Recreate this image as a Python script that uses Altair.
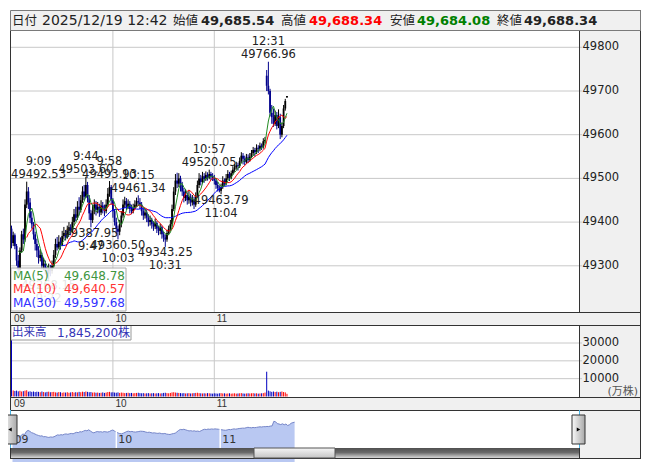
import altair as alt
import pandas as pd
import numpy as np

# ---------------- data (1-minute bars, 9:00 .. 11:30, 12:30 .. 12:42) ----------------
opens = [
    49385, 49352, 49370, 49345, 49312, 49290, 49335, 49372, 49360, 49440,
    49470, 49445, 49410, 49395, 49372, 49350, 49335, 49318, 49325, 49300,
    49305, 49290, 49282, 49295, 49288, 49300, 49325, 49350, 49342, 49355,
    49348, 49368, 49375, 49365, 49380, 49388, 49378, 49400, 49418, 49410,
    49435, 49428, 49450, 49470, 49458, 49485, 49455, 49420, 49405, 49425,
    49440, 49428, 49435, 49422, 49438, 49430, 49425, 49440, 49465, 49480,
    49450, 49425, 49400, 49385, 49378, 49395, 49415, 49440, 49448, 49435,
    49442, 49430, 49425, 49432, 49440, 49448, 49445, 49440, 49425, 49415,
    49422, 49410, 49400, 49405, 49395, 49390, 49398, 49385, 49380, 49388,
    49372, 49365, 49360, 49375, 49385, 49395, 49430, 49470, 49495, 49488,
    49500, 49485, 49470, 49455, 49462, 49450, 49458, 49445, 49452, 49440,
    49460, 49485, 49500, 49492, 49505, 49498, 49508, 49502, 49510, 49505,
    49500, 49495, 49485, 49478, 49472, 49480, 49495, 49488, 49500, 49510,
    49502, 49512, 49520, 49525, 49530, 49528, 49540, 49552, 49545, 49538,
    49548, 49542, 49550, 49558, 49565, 49560, 49570, 49568, 49575, 49572,
    49585, 49735, 49712, 49700, 49650, 49640, 49625, 49645, 49620, 49640,
    49600, 49620, 49660, 49685.54,
]
highs = [
    49392, 49378, 49374, 49350, 49325, 49342, 49380, 49385, 49452, 49492.53,
    49480, 49455, 49425, 49400, 49378, 49362, 49345, 49338, 49330, 49318,
    49312, 49298, 49305, 49302, 49312, 49336, 49362, 49366, 49370, 49365,
    49380, 49389, 49382, 49392, 49400, 49395, 49412, 49430, 49435, 49448,
    49457, 49462, 49482, 49485, 49503.60, 49492, 49462, 49428, 49440, 49452,
    49448, 49446, 49442, 49450, 49446, 49440, 49452, 49478, 49493.93, 49485,
    49455, 49430, 49410, 49392, 49405, 49425, 49452, 49458, 49455, 49452,
    49448, 49440, 49442, 49450, 49456, 49461.34, 49455, 49446, 49432, 49430,
    49428, 49418, 49415, 49410, 49402, 49408, 49402, 49392, 49396, 49392,
    49378, 49372, 49382, 49392, 49405, 49440, 49480, 49510, 49513, 49512,
    49506, 49492, 49478, 49475, 49468, 49472, 49465, 49462, 49458, 49468,
    49495, 49512, 49508, 49515, 49512, 49516, 49514, 49520.05, 49515, 49512,
    49508, 49500, 49492, 49484, 49488, 49505, 49500, 49510, 49519, 49515,
    49518, 49528, 49533, 49538, 49536, 49548, 49560, 49558, 49552, 49556,
    49555, 49558, 49565, 49572, 49570, 49578, 49576, 49582, 49580, 49592,
    49595, 49748, 49766.96, 49705, 49668, 49660, 49655, 49652, 49658, 49648,
    49628, 49668, 49682, 49688.34,
]
lows = [
    49340, 49345, 49338, 49300, 49282, 49286, 49330, 49350, 49355, 49432,
    49430, 49398, 49385, 49360, 49335, 49320, 49305, 49310, 49292, 49290,
    49280, 49272, 49268.15, 49276, 49282, 49296, 49318, 49335, 49338, 49337,
    49345, 49360, 49358, 49362, 49372, 49370, 49375, 49392, 49402, 49405,
    49415, 49422, 49444, 49450, 49455, 49445, 49405, 49387.95, 49398, 49418,
    49415, 49420, 49412, 49416, 49420, 49414, 49420, 49435, 49458, 49440,
    49410, 49392, 49372, 49360.50, 49370, 49388, 49410, 49432, 49428, 49430,
    49420, 49418, 49420, 49428, 49435, 49438, 49430, 49415, 49405, 49408,
    49400, 49390, 49392, 49385, 49380, 49384, 49375, 49370, 49372, 49362,
    49355, 49343.25, 49355, 49370, 49380, 49390, 49425, 49462, 49478, 49480,
    49470, 49460, 49445, 49448, 49440, 49442, 49436, 49438, 49430, 49435,
    49455, 49478, 49484, 49488, 49490, 49494, 49495, 49498, 49496, 49494,
    49486, 49476, 49470, 49468, 49463.79, 49476, 49482, 49484, 49496, 49494,
    49498, 49508, 49515, 49520, 49518, 49524, 49535, 49532, 49530, 49534,
    49535, 49538, 49546, 49552, 49550, 49556, 49558, 49562, 49565, 49568,
    49580, 49700, 49692, 49642, 49625, 49618, 49620, 49612, 49615, 49590,
    49594, 49615, 49655, 49684.08,
]
closes = [
    49352, 49370, 49345, 49312, 49290, 49335, 49372, 49360, 49440, 49470,
    49445, 49410, 49395, 49372, 49350, 49335, 49318, 49325, 49300, 49305,
    49290, 49282, 49295, 49288, 49300, 49325, 49350, 49342, 49355, 49348,
    49368, 49375, 49365, 49380, 49388, 49378, 49400, 49418, 49410, 49435,
    49428, 49450, 49470, 49458, 49485, 49455, 49420, 49405, 49425, 49440,
    49428, 49435, 49422, 49438, 49430, 49425, 49440, 49465, 49480, 49450,
    49425, 49400, 49385, 49378, 49395, 49415, 49440, 49448, 49435, 49442,
    49430, 49425, 49432, 49440, 49448, 49445, 49440, 49425, 49415, 49422,
    49410, 49400, 49405, 49395, 49390, 49398, 49385, 49380, 49388, 49372,
    49365, 49360, 49375, 49385, 49395, 49430, 49470, 49495, 49488, 49500,
    49485, 49470, 49455, 49462, 49450, 49458, 49445, 49452, 49440, 49460,
    49485, 49500, 49492, 49505, 49498, 49508, 49502, 49510, 49505, 49500,
    49495, 49485, 49478, 49472, 49480, 49495, 49488, 49500, 49510, 49502,
    49512, 49520, 49525, 49530, 49528, 49540, 49552, 49545, 49538, 49548,
    49542, 49550, 49558, 49565, 49560, 49570, 49568, 49575, 49572, 49585,
    49588, 49712, 49700, 49650, 49640, 49625, 49645, 49620, 49640, 49600,
    49620, 49660, 49677, 49688.34,
]
volumes = [
    31700,
    3400, 3100, 3300, 2900, 3200, 2800, 3000, 3300, 3500, 2700,
    2900, 2600, 2800, 2500, 2700, 2600, 2400, 2800, 2500, 2300,
    2600, 2700, 2400, 2500, 2600, 2300, 2200, 2500, 2400, 2100,
    2300, 2200, 2400, 2100, 2300, 2500, 2200, 2400, 2300, 2600,
    2400, 2700, 2500, 2800, 2600, 2400, 2500, 2200, 2300, 2100,
    2200, 2000, 2100, 2300, 2000, 2200, 2500, 2600, 2300, 2400,
    2200, 2100, 2300, 2000, 2200, 2100, 1900, 2000, 2100, 1900,
    2000, 1800, 1900, 2000, 2100, 1900, 1800, 1900, 1700, 1800,
    1900, 1700, 1800, 1900, 1700, 1800, 1900, 1700, 1800, 2000,
    2100, 1900, 1800, 2000, 2300, 2400, 2200, 2100, 2000, 1900,
    1800, 1900, 1700, 1800, 1900, 1700, 1800, 1900, 2000, 2100,
    1900, 1800, 1700, 1800, 1700, 1900, 1800, 1700, 1600, 1800,
    1700, 1600, 1800, 1900, 1700, 1800, 1600, 1700, 1800, 1600,
    1700, 1800, 1600, 1700, 1800, 1900, 1700, 1600, 1700, 1800,
    1700, 1800, 1900, 1700, 1800, 1600, 1700, 1800, 1900, 2200,
    13900,
    3300, 2900, 2600, 2800, 2500, 2700, 2400, 2600, 2800, 2500, 2300, 1500,
]

# annotated extremes
ann_times = ["9:09", "9:44", "9:58", "10:15", "10:57", "12:31",
             "9:22", "9:47", "10:03", "10:31", "11:04"]
ann_index = [9, 44, 58, 75, 117, 152, 22, 47, 63, 91, 124]
ann_price = [49492.53, 49503.60, 49493.93, 49461.34, 49520.05, 49766.96,
             49268.15, 49387.95, 49360.50, 49343.25, 49463.79]
ann_kind = ["H", "H", "H", "H", "H", "H", "L", "L", "L", "L", "L"]

price_ticks = [49300, 49400, 49500, 49600, 49700, 49800]
vol_ticks = [10000, 20000, 30000]
hour_index = [0, 60, 120]
hour_labels = ["09", "10", "11"]

header_labels = ["日付", "始値", "高値", "安値", "終値"]
header_date = "2025/12/19 12:42"
header_values = ["49,685.54", "49,688.34", "49,684.08", "49,688.34"]
ma_names = ["MA(5)", "MA(10)", "MA(30)"]
ma_values = ["49,648.78", "49,640.57", "49,597.68"]
volume_text = "1,845,200株"

# ---------------- frames ----------------
df = pd.DataFrame({"i": list(range(len(closes))), "o": opens, "h": highs,
                   "l": lows, "c": closes, "v": volumes})
df["dir"] = np.where(df["c"] >= df["o"], "up", "down")

ann = pd.DataFrame({"t": ann_times, "i": ann_index, "p": ann_price, "k": ann_kind})
ann["val"] = ann["p"].map(lambda v: f"{v:.2f}")
ann["li"] = ann["i"].clip(lower=16)

W, H = 637, 454
FONT = "DejaVu Sans"
CJK = "Noto Sans CJK JP"
MIX = "DejaVu Sans, Noto Sans CJK JP"


def P(v):
    return v - 8


one = pd.DataFrame({"k": [0]})

XS = alt.Scale(domain=[0, 163], range=[P(11.5), P(11.5 + 163 * 1.69)], nice=False, zero=False)
YP = alt.Scale(domain=[49300, 49800], range=[P(265.8), P(47.3)], nice=False, zero=False)
YV = alt.Scale(domain=[0, 30000], range=[P(396.5), P(343)], nice=False, zero=False)
XN = alt.Scale(domain=[0, 163], range=[P(12.5), P(294.6)], nice=False, zero=False)
YN = alt.Scale(domain=[49000, 49800], range=[P(448), P(418)], nice=False, zero=False)


def xi(field="i:Q", s=XS):
    return alt.X(field, scale=s, axis=None)


def rect(x1, y1, x2, y2, fill="white", stroke=None, sw=1, fo=1.0):
    kw = dict(fill=fill, fillOpacity=fo)
    if stroke:
        kw.update(stroke=stroke, strokeWidth=sw)
    else:
        kw.update(strokeWidth=0)
    return alt.Chart(one).mark_rect(**kw).encode(
        x=alt.value(P(x1)), x2=alt.value(P(x2)), y=alt.value(P(y1)), y2=alt.value(P(y2)))


def line(x1, y1, x2, y2, color="#333333", sw=1):
    return alt.Chart(one).mark_rule(color=color, strokeWidth=sw).encode(
        x=alt.value(P(x1)), x2=alt.value(P(x2)), y=alt.value(P(y1)), y2=alt.value(P(y2)))


def txt(x, y, s, size=12, color="#222222", align="left", baseline="middle", font=FONT, weight="normal"):
    return alt.Chart(one).mark_text(text=s, fontSize=size, color=color, align=align,
                                    baseline=baseline, font=font, fontWeight=weight).encode(
        x=alt.value(P(x)), y=alt.value(P(y)))


def vgrad(stops):
    return alt.LinearGradient(gradient="linear", x1=0, x2=0, y1=0, y2=1,
                              stops=[alt.GradientStop(color=c, offset=o) for o, c in stops])


def hgrad(stops):
    return alt.LinearGradient(gradient="linear", x1=0, x2=1, y1=0, y2=0,
                              stops=[alt.GradientStop(color=c, offset=o) for o, c in stops])


layers = []
GRAY = "#f0f0f0"
# panel backgrounds
layers += [
    rect(10, 30, 579, 312, "white"),
    rect(579, 30, 641, 312, GRAY),
    rect(10, 312, 641, 325, GRAY),
    rect(10, 325, 579, 397, "white"),
    rect(579, 325, 641, 397, GRAY),
    rect(10, 397, 641, 410, GRAY),
    rect(10, 410, 579, 448, "white"),
    rect(579, 410, 641, 459, GRAY),
]

tick_df = pd.DataFrame({"g": price_ticks, "lab": [str(t) for t in price_ticks]})
vtick_df = pd.DataFrame({"g": vol_ticks, "lab": [str(t) for t in vol_ticks]})
hour_df = pd.DataFrame({"t": hour_index, "lab": hour_labels})
GRID = "#c8c8c8"

# gridlines
layers.append(alt.Chart(tick_df).mark_rule(color=GRID, strokeWidth=1).encode(
    y=alt.Y("g:Q", scale=YP, axis=None), x=alt.value(P(11)), x2=alt.value(P(582))))
layers.append(alt.Chart(vtick_df).mark_rule(color=GRID, strokeWidth=1).encode(
    y=alt.Y("g:Q", scale=YV, axis=None), x=alt.value(P(11)), x2=alt.value(P(582))))
vg = hour_df[hour_df["t"] > 0]
layers.append(alt.Chart(vg).mark_rule(color=GRID, strokeWidth=1).encode(
    x=xi("t:Q"), y=alt.value(P(31)), y2=alt.value(P(312))))
layers.append(alt.Chart(vg).mark_rule(color=GRID, strokeWidth=1).encode(
    x=xi("t:Q"), y=alt.value(P(326)), y2=alt.value(P(397))))

# volume bars
layers.append(alt.Chart(df).mark_rule(strokeWidth=1).encode(
    x=xi(), y=alt.Y("v:Q", scale=YV, axis=None), y2=alt.value(P(396.5)),
    color=alt.Color("dir:N", scale=alt.Scale(domain=["up", "down"], range=["#ff0000", "#0000c0"]), legend=None)))

# candles
CS = alt.Scale(domain=["up", "down"], range=["#000000", "#00008b"])
layers.append(alt.Chart(df).mark_rule(strokeWidth=1).encode(
    x=xi(), y=alt.Y("l:Q", scale=YP, axis=None), y2="h:Q",
    color=alt.Color("dir:N", scale=CS, legend=None)))
layers.append(alt.Chart(df).mark_rule(strokeWidth=1.8).encode(
    x=xi(), y=alt.Y("o:Q", scale=YP, axis=None), y2="c:Q",
    color=alt.Color("dir:N", scale=CS, legend=None)))

# moving averages
for n, col in [(30, "#0000ff"), (10, "#ff0000"), (5, "#228b22")]:
    layers.append(alt.Chart(df).transform_window(
        ma=f"mean(c)", frame=[-(n - 1), 0], sort=[alt.SortField("i")]
    ).transform_filter(f"datum.i >= {n - 1}").mark_line(color=col, strokeWidth=1).encode(
        x=xi(), y=alt.Y("ma:Q", scale=YP, axis=None)))

# annotations
AC = "#222222"
for kind, dv, dt in [("H", -6.5, -19.5), ("L", 6.5, 19.5)]:
    sub = ann[ann["k"] == kind]
    for fld, d in [("val", dv), ("t", dt)]:
        layers.append(alt.Chart(sub).mark_text(dy=d, fontSize=11.5, font=FONT, color=AC,
                                               align="center", baseline="middle").encode(
            x=xi("li:Q"), y=alt.Y("p:Q", scale=YP, axis=None), text=f"{fld}:N"))

# MA legend box
layers.append(rect(11, 268, 126, 311, "white", stroke="#aaaaaa", fo=0.88))
for k, (nm, vv, col, yy) in enumerate(zip(ma_names, ma_values,
                                           ["#3f963f", "#ff3333", "#3333ff"], [275.5, 289, 302.5])):
    layers.append(txt(13, yy, nm, 12, col))
    layers.append(txt(125, yy, vv, 12, col, align="right"))

# volume legend box
layers.append(rect(11, 325.5, 131, 340, "white", stroke="#999999"))
layers.append(txt(12, 333, "出来高", 11.5, "#3535b5", font=CJK))
layers.append(txt(57, 333, volume_text, 12, "#3535b5", font=MIX))

# right axis labels
layers.append(alt.Chart(tick_df).mark_text(align="left", baseline="middle", fontSize=11.5, font=FONT, color="#222222").encode(
    y=alt.Y("g:Q", scale=YP, axis=None), x=alt.value(P(582.5)), text="lab:N"))
layers.append(alt.Chart(vtick_df).mark_text(align="left", baseline="middle", fontSize=11.5, font=FONT, color="#222222").encode(
    y=alt.Y("g:Q", scale=YV, axis=None), x=alt.value(P(582.5)), text="lab:N"))
layers.append(txt(638, 391.5, "(万株)", 11, "#555555", align="right", font=MIX))

# band hour labels
for yy in [318.5, 403.5]:
    layers.append(alt.Chart(hour_df).mark_text(align="left", baseline="middle", dx=2.5, fontSize=10,
                                               font="Liberation Sans", color="#333333").encode(
        x=xi("t:Q"), y=alt.value(P(yy)), text="lab:N"))

# navigator
layers.append(alt.Chart(df).mark_area(color="#b9c8f2", opacity=1).encode(
    x=xi("i:Q", XN), y=alt.Y("c:Q", scale=YN, axis=None), y2=alt.value(P(448))))
layers.append(alt.Chart(df).mark_line(color="#7585c8", strokeWidth=1).encode(
    x=xi("i:Q", XN), y=alt.Y("c:Q", scale=YN, axis=None)))
layers.append(alt.Chart(vg).mark_rule(color="white", strokeWidth=1.5).encode(
    x=xi("t:Q", XN), y=alt.value(P(416)), y2=alt.value(P(448))))
layers.append(alt.Chart(hour_df).mark_text(align="left", baseline="middle", dx=2, fontSize=11,
                                           font=FONT, color="#333333").encode(
    x=xi("t:Q", XN), y=alt.value(P(440)), text="lab:N"))

# frame lines
D = "#333333"
layers += [
    line(10.5, 30, 10.5, 459, D),
    line(640.5, 10, 640.5, 459, D),
    line(579.5, 30, 579.5, 312, D),
    line(579.5, 325, 579.5, 397, D),
    line(10, 312.5, 641, 312.5, D),
    line(10, 325.5, 641, 325.5, D),
    line(10, 397.5, 641, 397.5, D),
    line(10, 410.5, 641, 410.5, D),
    line(10, 458.5, 641, 458.5, D),
    line(10.5, 410, 10.5, 448, "#4ab4e6"),
    line(579.5, 410, 579.5, 448, "#4ab4e6"),
]

# scrollbar
layers.append(rect(11, 448, 579, 458, vgrad([(0, "#505050"), (0.45, "#6a6a6a"), (1, "#d8d8d8")])))
layers.append(rect(254, 448, 335, 458, vgrad([(0, "#f6f6f6"), (1, "#c4c4c4")]), stroke="#555555"))
layers.append(line(579.5, 448, 579.5, 459, D))

# scroll buttons
for bx1, bx2, shape in [(3, 17, "triangle-left"), (572, 585, "triangle-right")]:
    layers.append(rect(bx1, 415, bx2, 444, hgrad([(0, "#fafafa"), (1, "#a8a8a8")]), stroke="#333333"))
    layers.append(alt.Chart(one).mark_point(shape=shape, filled=True, color="black", size=16, opacity=1).encode(
        x=alt.value(P((bx1 + bx2) / 2)), y=alt.value(P(429.5))))

# header
layers.append(rect(10.5, 10.5, 640.5, 30.5, GRAY, stroke="#7a7a7a"))
HB = 25
layers += [
    txt(12, HB, header_labels[0], 12.5, "#222222", baseline="alphabetic", font=CJK),
    txt(42, HB, header_date, 14, "#222222", baseline="alphabetic"),
    txt(173, HB, header_labels[1], 12.5, "#222222", baseline="alphabetic", font=CJK),
    txt(201, HB, header_values[0], 13, "#222222", baseline="alphabetic", weight="bold"),
    txt(281, HB, header_labels[2], 12.5, "#222222", baseline="alphabetic", font=CJK),
    txt(309, HB, header_values[1], 13, "#ff0000", baseline="alphabetic", weight="bold"),
    txt(390, HB, header_labels[3], 12.5, "#222222", baseline="alphabetic", font=CJK),
    txt(417, HB, header_values[2], 13, "#008000", baseline="alphabetic", weight="bold"),
    txt(497, HB, header_labels[4], 12.5, "#222222", baseline="alphabetic", font=CJK),
    txt(524, HB, header_values[3], 13, "#222222", baseline="alphabetic", weight="bold"),
]

chart = alt.layer(*layers).resolve_scale(
    x="independent", y="independent", color="independent"
).properties(
    width=W, height=H, padding=0, autosize=alt.AutoSizeParams(type="none"), background="white"
).configure_view(stroke=None)

chart.save("out.html", embed_options={"renderer": "svg", "actions": False})
